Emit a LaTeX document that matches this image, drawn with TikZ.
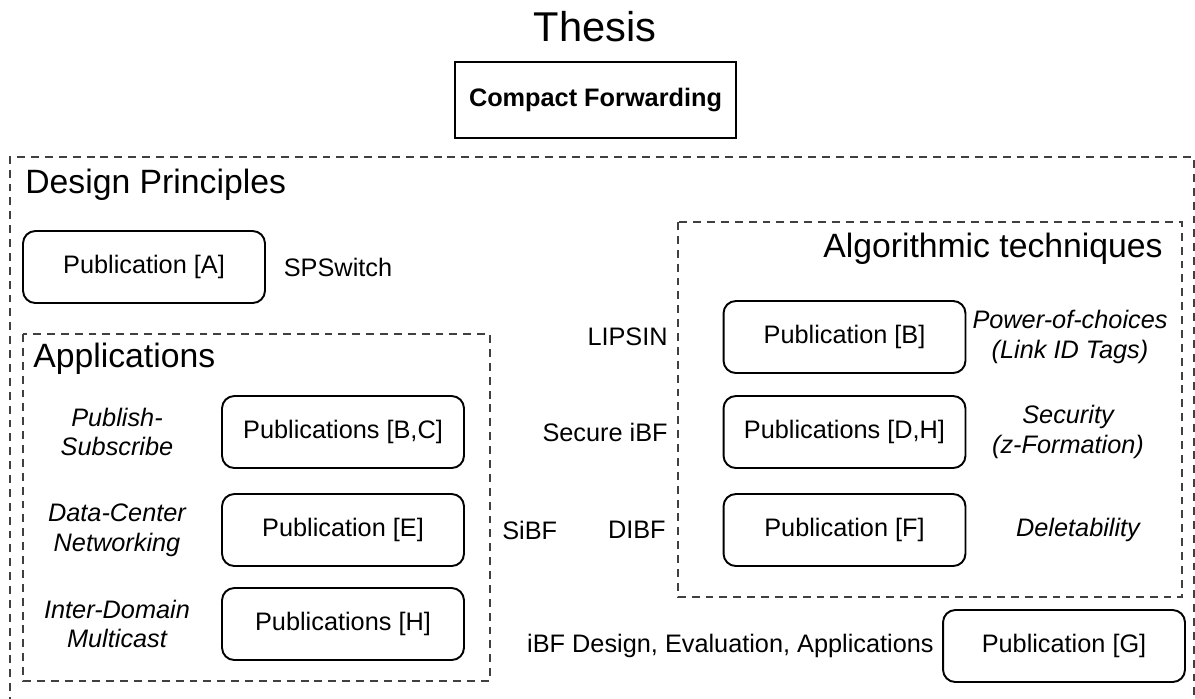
\documentclass[tikz,border=0pt]{standalone}
\usepackage{fontspec}
\setmainfont{Liberation Sans}
\usetikzlibrary{positioning}

\begin{document}
\begin{tikzpicture}[x=0.02cm, y=-0.02cm, font=\fontsize{14.4}{17}\selectfont,
  pubbox/.style={draw, line width=1.1pt, rounded corners=7pt, minimum width=4.84cm, minimum height=1.44cm, inner sep=0pt},
  areabox/.style={draw=black!75, line width=0.8pt, dash pattern=on 4.5pt off 3.4pt},
  areatitle/.style={font=\fontsize{19.2}{22}\selectfont, inner sep=0pt},
  topic/.style={font=\fontsize{14.4}{17}\itshape, align=center, inner sep=0pt},
  tool/.style={inner sep=0pt}]

\useasboundingbox (0,0) rectangle (1195,698);

% title and thesis box
\node[font=\fontsize{23.7}{28}\selectfont] (thesis) at (595,27) {Thesis};
\node[draw, line width=1.1pt, minimum width=5.62cm, minimum height=1.52cm, font=\fontsize{14.4}{17}\bfseries] (forwarding) at (595.5,100) {Compact Forwarding};

% design principles, open at the bottom
\draw[areabox] (10,705) -- (10,157) -- (1194,157) -- (1194,705);
\node[areatitle, anchor=base west] (design) at (25,193) {Design Principles};
\node[pubbox] (pubA) at (144,267) {Publication [A]};
\node[tool, right=10pt of pubA.east, anchor=west] (spswitch) {SPSwitch};

% applications
\draw[areabox] (23,334) rectangle (490,681);
\node[areatitle, anchor=base west] (applications) at (33,367) {Applications};
\node[pubbox] (pubBC) at (343,432) {Publications [B,C]};
\node[pubbox] (pubE) at (343,530) {Publication [E]};
\node[pubbox] (pubH) at (343,624) {Publications [H]};
\node[topic] (pubsub) at (117,432) {Publish-\\Subscribe};
\node[topic] (datacenter) at (117,530) {Data-Center\\Networking};
\node[topic] (interdomain) at (117,624) {Inter-Domain\\Multicast};
\node[tool, anchor=west] (sibf) at (502,530) {SiBF};

% algorithmic techniques
\draw[areabox] (678,222) rectangle (1182,597);
\node[areatitle, anchor=base east] (algorithmic) at (1163,257) {Algorithmic techniques};
\node[pubbox] (pubB) at (844.5,337) {Publication [B]};
\node[pubbox] (pubDH) at (844.5,432) {Publications [D,H]};
\node[pubbox] (pubF) at (844.5,530) {Publication [F]};
\node[tool, anchor=east] (lipsin) at (668,337) {LIPSIN};
\node[tool, anchor=east] (secure) at (668,432) {Secure iBF};
\node[tool, anchor=east] (dibf) at (666,530) {DIBF};
\node[topic] (choices) at (1070,337) {Power-of-choices\\(Link ID Tags)};
\node[topic] (security) at (1068,432) {Security\\(z-Formation)};
\node[topic] (deletability) at (1078,530) {Deletability};

% iBF
\node[pubbox] (pubG) at (1064,646) {Publication [G]};
\node[tool, anchor=east] (ibf) at (934,646) {iBF Design, Evaluation, Applications};

\end{tikzpicture}
\end{document}
